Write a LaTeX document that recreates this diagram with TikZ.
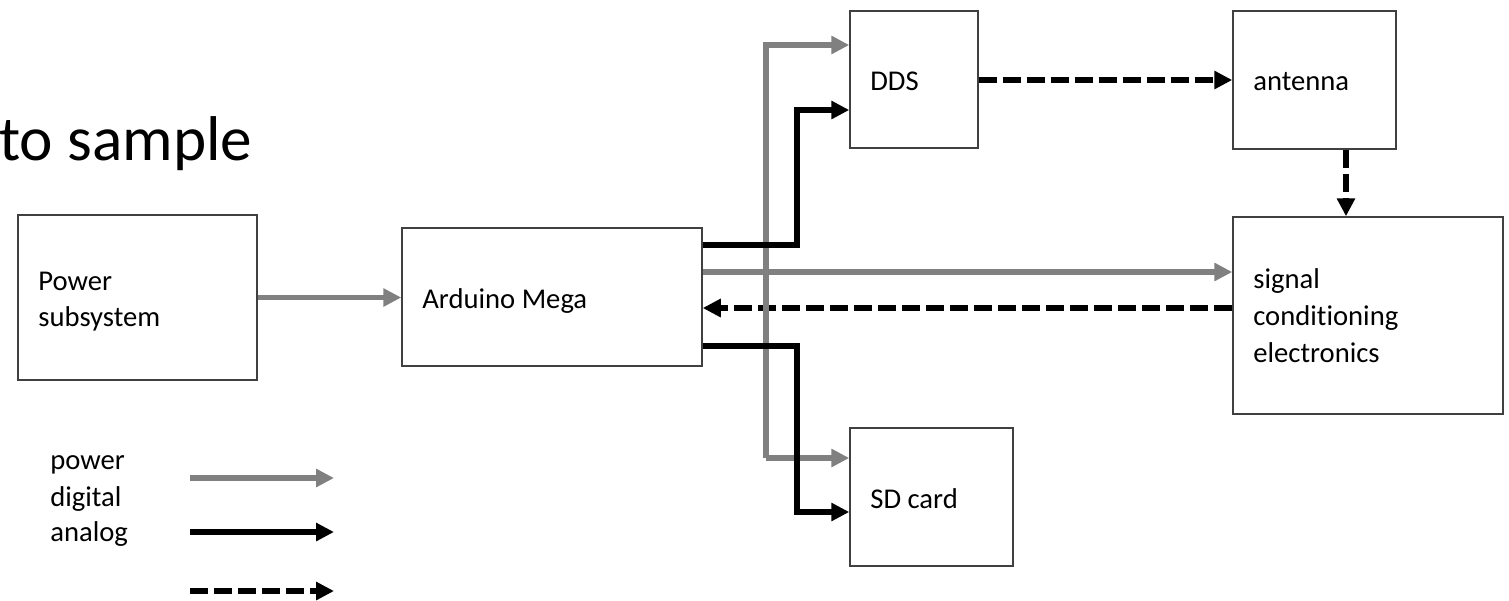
\documentclass[tikz,border=0pt]{standalone}
\usepackage{fontspec}
\setmainfont{Carlito}[Ligatures=NoCommon]
\usetikzlibrary{arrows.meta,fit}
\begin{document}
\begin{tikzpicture}[x=0.02cm,y=-0.02cm,
  box/.style={draw=black!75,line width=0.03cm,inner sep=0pt},
  lbl/.style={anchor=base west,inner sep=0pt,font=\fontsize{16.3}{20.4}\selectfont},
  tip/.style={-{Triangle[length=0.36cm,width=0.35cm]}},
  pwr/.style={draw=black!50,line width=0.11cm,line join=miter},
  dig/.style={draw=black,line width=0.13cm,line join=miter},
  ana/.style={draw=black,line width=0.13cm,dash pattern=on 0.36cm off 0.12cm}]
\useasboundingbox (0,0) rectangle (1509,600);
% boxes
\node[box,fit={(18,215)(257,380)}] (pw) {};
\node[box,fit={(402,228)(702,366)}] (ard) {};
\node[box,fit={(850,11)(978,148)}] (dds) {};
\node[box,fit={(1233,11)(1396,149)}] (ant) {};
\node[box,fit={(1233,217)(1503,414)}] (sig) {};
\node[box,fit={(850,428)(1013,566)}] (sd) {};
% texts
\node[anchor=base west,inner sep=0pt,font=\fontsize{36}{43}\selectfont] (title) at (-1,160) {to sample};
\node[lbl] (pwt1) at (38,290) {Power};
\node[lbl] (pwt2) at (38,326) {subsystem};
\node[lbl] (ardt) at (422,308) {Arduino Mega};
\node[lbl] (ddst) at (870,90) {DDS};
\node[lbl] (antt) at (1253,90) {antenna};
\node[lbl] (sigt1) at (1253,288) {signal};
\node[lbl] (sigt2) at (1253,325) {conditioning};
\node[lbl] (sigt3) at (1253,362) {electronics};
\node[lbl] (sdt) at (870,508) {SD card};
\node[lbl] (lg1) at (50,469) {power};
\node[lbl] (lg2) at (50,506) {digital};
\node[lbl] (lg3) at (50,541) {analog};
% helper coordinates
\coordinate (y45) at (0,45);
\coordinate (y80) at (0,80);
\coordinate (y110) at (0,110);
\coordinate (y245) at (0,245);
\coordinate (y272) at (0,272);
\coordinate (y308) at (0,308);
\coordinate (y346) at (0,346);
\coordinate (y458) at (0,458);
\coordinate (y512) at (0,512);
\coordinate (x1346) at (1346,0);
\coordinate (bust) at (766,45);
\coordinate (busb) at (766,458);
\coordinate (dk1) at (797,245);
\coordinate (dk2) at (797,110);
\coordinate (sk1) at (797,346);
\coordinate (sk2) at (797,512);
\coordinate (l1a) at (190,478);
\coordinate (l1b) at (334,478);
\coordinate (l2a) at (190,532);
\coordinate (l2b) at (334,532);
\coordinate (l3a) at (190,591);
\coordinate (l3b) at (334,591);
% analog (dashed)
\draw[ana,tip] (sig.west |- y308) -- (ard.east |- y308);
\draw[ana,tip] (dds.east |- y80) -- (ant.west |- y80);
\draw[ana,tip] (ant.south -| x1346) -- (sig.north -| x1346);
% power (gray)
\draw[pwr,tip] (pw.east) -- (pw.east -| ard.west);
\draw[pwr,tip] (ard.east |- y272) -- (sig.west |- y272);
\draw[pwr,tip] (busb) -- (bust) -- (dds.west |- bust);
\draw[pwr,tip] (busb) -- (sd.west |- busb);
% digital (black)
\draw[dig,tip] (ard.east |- y245) -- (dk1) -- (dk2) -- (dds.west |- dk2);
\draw[dig,tip] (ard.east |- y346) -- (sk1) -- (sk2) -- (sd.west |- sk2);
% legend
\draw[pwr,tip] (l1a) -- (l1b);
\draw[dig,tip] (l2a) -- (l2b);
\draw[ana,tip] (l3a) -- (l3b);
\end{tikzpicture}
\end{document}
